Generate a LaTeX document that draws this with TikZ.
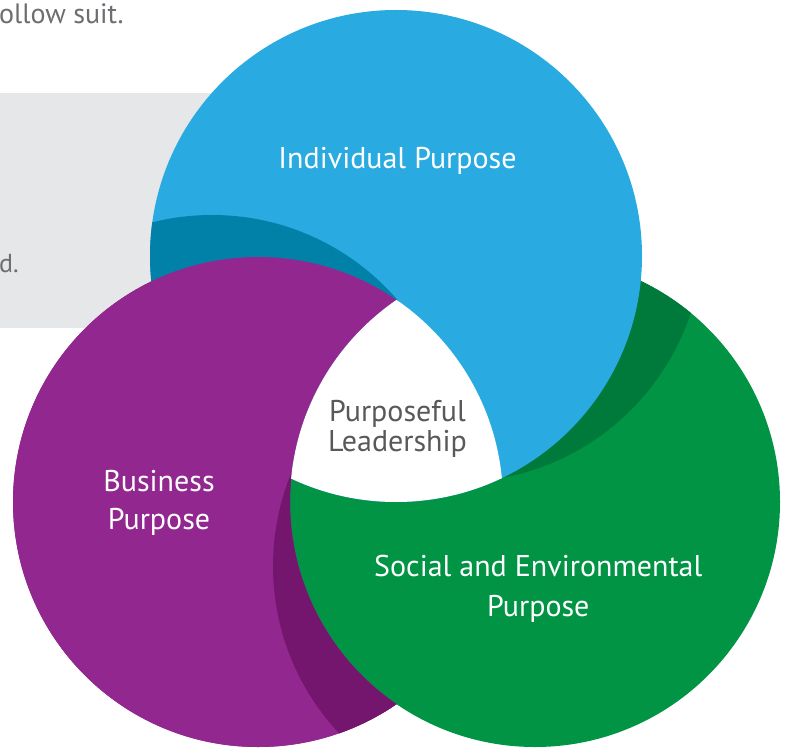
\documentclass[tikz,border=0pt]{standalone}
\usepackage{fontspec}
\setmainfont{PT Sans}
\definecolor{cblue}{HTML}{29ABE2}
\definecolor{cdblue}{HTML}{0281A8}
\definecolor{cpurple}{HTML}{92278F}
\definecolor{cdpurple}{HTML}{74166E}
\definecolor{cgreen}{HTML}{009444}
\definecolor{cdgreen}{HTML}{007A3A}
\definecolor{cgray}{HTML}{E6E7E8}
\definecolor{ctext}{HTML}{58595B}
\definecolor{cbody}{HTML}{6D6E71}
\begin{document}
\begin{tikzpicture}[x=1pt,y=-1pt,
  lbl/.style={inner sep=0pt,anchor=base,text=white,font=\fontsize{30}{36}\selectfont},
  clbl/.style={lbl,text=ctext},
  body/.style={inner sep=0pt,anchor=base west,text=cbody,font=\fontsize{28}{34}\selectfont}]
\useasboundingbox (0,0) rectangle (785,749);
\fill[white] (0,0) rectangle (785,749);
\fill[cgray] (0,93) rectangle (300,328);
\node[body] (t1) at (-1,24) {ollow suit.};
\node[body,font=\fontsize{26}{30}\selectfont] (t2) at (-1,272) {d.};
\coordinate (P) at (258,502);
\coordinate (G) at (535,502);
\coordinate (B) at (396,256);
\coordinate (SP) at (212,460);
\coordinate (SB) at (457,236);
\coordinate (SG) at (518,566);
% purple layer
\fill[cpurple] (P) circle[radius=245];
\begin{scope}
  \clip (P) circle[radius=245];
  \fill[cdpurple] (SG) circle[radius=245];
\end{scope}
% green layer
\fill[cgreen] (G) circle[radius=245];
\begin{scope}
  \clip (G) circle[radius=245];
  \fill[cdgreen] (SB) circle[radius=246];
\end{scope}
% blue layer
\fill[cblue] (B) circle[radius=246];
\begin{scope}
  \clip (B) circle[radius=246];
  \fill[cdblue] (SP) circle[radius=245];
\end{scope}
% purple again, only outside green
\begin{scope}[even odd rule]
  \clip (-50,-50) rectangle (900,900) (G) circle[radius=245];
  \fill[cpurple] (P) circle[radius=245];
  \begin{scope}
    \clip (P) circle[radius=245];
    \fill[cdpurple] (SG) circle[radius=245];
  \end{scope}
\end{scope}
% centre
\begin{scope}
  \clip (B) circle[radius=246];
  \clip (G) circle[radius=245];
  \fill[white] (P) circle[radius=245];
\end{scope}
\node[lbl] (ip) at (397.5,168) {Individual Purpose};
\node[clbl] (pl1) at (397.5,421.5) {Purposeful};
\node[clbl] (pl2) at (397.5,451.5) {Leadership};
\node[lbl] (bp1) at (159,491) {Business};
\node[lbl] (bp2) at (159,529) {Purpose};
\node[lbl] (sp1) at (538.3,576.7) {Social and Environmental};
\node[lbl] (sp2) at (538.3,616) {Purpose};
\end{tikzpicture}
\end{document}
